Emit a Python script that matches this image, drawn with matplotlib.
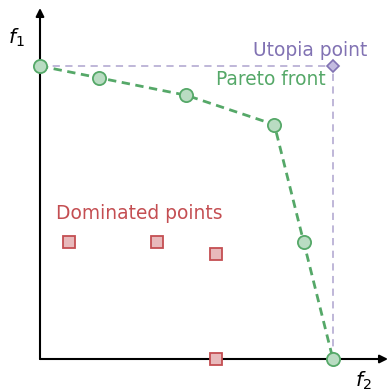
import matplotlib
matplotlib.use("Agg")
import matplotlib.pyplot as plt

pareto_f2 = [0, 2, 5, 8, 9, 10]
pareto_f1 = [10, 9.6, 9, 8, 4, 0]
dominated_f2 = [1, 4, 6, 6]
dominated_f1 = [4, 4, 3.6, 0]
utopia_f2 = [10]
utopia_f1 = [10]

green = "#55A868"
red = "#C44E52"
purple = "#8172B3"

plt.rcParams['mathtext.fontset'] = 'dejavusans'
fig = plt.figure(figsize=(3.91, 3.92), dpi=100)
ax = fig.add_axes([40/391, 33/392, 348/391, 351/392])
ax.set_xlim(0, 11.88)
ax.set_ylim(0, 11.98)
for s in ax.spines.values():
    s.set_visible(False)
ax.set_xticks([])
ax.set_yticks([])

# axes arrows
ax.annotate("", xy=(11.88, 0), xytext=(0, 0),
            arrowprops=dict(arrowstyle="-|>", color="black", lw=1.5, mutation_scale=12,
                            shrinkA=0, shrinkB=0), annotation_clip=False)
ax.annotate("", xy=(0, 11.98), xytext=(0, 0),
            arrowprops=dict(arrowstyle="-|>", color="black", lw=1.5, mutation_scale=12,
                            shrinkA=0, shrinkB=0), annotation_clip=False)

# utopia guides
ux, uy = utopia_f2[0], utopia_f1[0]
ax.plot([0, ux], [uy, uy], color=purple, alpha=0.55, lw=1.3, ls=(0, (4, 3)), zorder=2)
ax.plot([ux, ux], [0, uy], color=purple, alpha=0.55, lw=1.3, ls=(0, (4, 3)), zorder=2)

# pareto front
ax.plot(pareto_f2, pareto_f1, color=green, lw=2, ls=(0, (3, 2)), zorder=3)
ax.plot(pareto_f2, pareto_f1, ls="none", marker="o", ms=9.5, mfc="#b9dcc2",
        mec=green, mew=1.3, zorder=5, clip_on=False)

# dominated
ax.plot(dominated_f2, dominated_f1, ls="none", marker="s", ms=9.3, mfc="#e8b9bb",
        mec=red, mew=1.3, zorder=5, clip_on=False)

# utopia
ax.plot(utopia_f2, utopia_f1, ls="none", marker="D", ms=6.5, mfc="#c3bbe0",
        mec=purple, mew=1.2, zorder=6, clip_on=False)

ax.text(ux - 0.77, uy + 0.52, "Utopia point", color=purple, fontsize=13.4,
        ha="center", va="center")
ax.text(ux - 0.25, uy - 0.47, "Pareto front", color=green, fontsize=13.4,
        ha="right", va="center")
ax.text(0.55, 4.95, "Dominated points", color=red, fontsize=13.4,
        ha="left", va="center")
ax.text(-0.8, 10.95, r"$f_1$", fontsize=14.5, ha="center", va="center")
ax.text(11.05, -0.75, r"$f_2$", fontsize=14.5, ha="center", va="center")

fig.savefig("out.png", dpi=100)
